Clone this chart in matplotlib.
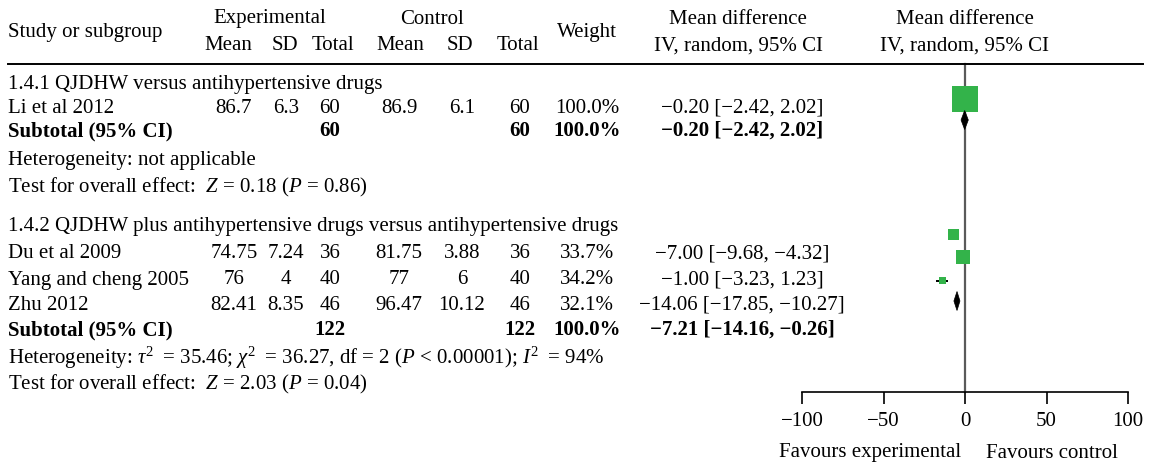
import matplotlib
matplotlib.use("Agg")
import matplotlib.pyplot as plt
from matplotlib.patches import Polygon
from matplotlib.lines import Line2D

# ---------------- data ----------------
studies = ["Li et al 2012", "Du et al 2009", "Yang and cheng 2005", "Zhu 2012"]
exp_mean = [86.7, 74.75, 76, 82.41]
exp_sd = [6.3, 7.24, 4, 8.35]
exp_n = [60, 36, 40, 46]
ctl_mean = [86.9, 81.75, 77, 96.47]
ctl_sd = [6.1, 3.88, 6, 10.12]
ctl_n = [60, 36, 40, 46]
weight = [100.0, 33.7, 34.2, 32.1]
md = [-0.20, -7.00, -1.00, -14.06]
md_lo = [-2.42, -9.68, -3.23, -17.85]
md_hi = [2.02, -4.32, 1.23, -10.27]

groups = ["1.4.1 QJDHW versus antihypertensive drugs",
          "1.4.2 QJDHW plus antihypertensive drugs versus antihypertensive drugs"]
sub_exp_n = [60, 122]
sub_ctl_n = [60, 122]
sub_weight = [100.0, 100.0]
sub_md = [-0.20, -7.21]
sub_lo = [-2.42, -14.16]
sub_hi = [2.02, -0.26]
# diamond extents as drawn in the picture
dia_center = [-0.20, -4.9]
dia_lo = [-2.42, -6.8]
dia_hi = [2.02, -3.1]
heterogeneity = ["Heterogeneity: not applicable",
                 "Heterogeneity: $\\tau^2$\u2009 = 35.46; $\\chi^2$\u2009 = 36.27, df = 2 "
                 "($P$ < 0.00001); $I^2$\u2009 = 94%"]
overall = ["Test for overall effect:  $Z$ = 0.18 ($P$ = 0.86)",
           "Test for overall effect:  $Z$ = 2.03 ($P$ = 0.04)"]
xticks = [-100, -50, 0, 50, 100]

# ---------------- style ----------------
plt.rcParams.update({
    "font.family": ["Liberation Serif", "DejaVu Serif"],
    "mathtext.fontset": "custom",
    "mathtext.rm": "Liberation Serif",
    "mathtext.it": "Liberation Serif:italic",
    "mathtext.bf": "Liberation Serif:bold",
    "axes.unicode_minus": True,
})
FS = 15
GREEN = "#33b34a"
W, H = 1150, 468
fig = plt.figure(figsize=(W / 100, H / 100), dpi=100)


def T(x, y, s, ha="left", weight="normal", **kw):
    fig.text(x / W, 1 - y / H, s, ha=ha, va="center", fontsize=FS,
             fontweight=weight, **kw)


def num(v, fmt="{:g}"):
    return fmt.format(v).replace("-", "\u2212")


def ci(m, lo, hi):
    return f"{num(m, '{:.2f}')} [{num(lo, '{:.2f}')}, {num(hi, '{:.2f}')}]"


# header
T(8, 32, "Study or subgroup")
T(270, 19, "Experimental", ha="center")
T(432, 19, "Control", ha="center")
for x, s in zip([228, 285, 333, 400, 460, 518], ["Mean", "SD", "Total", "Mean", "SD", "Total"]):
    T(x, 46, s, ha="center")
T(587, 32, "Weight", ha="center")
T(738, 19, "Mean difference", ha="center")
T(738, 46, "IV, random, 95% CI", ha="center")
T(965, 19, "Mean difference", ha="center")
T(965, 46, "IV, random, 95% CI", ha="center")
fig.add_artist(Line2D([8 / W, 1143 / W], [1 - 64 / H, 1 - 64 / H], color="black",
                      lw=1.4, transform=fig.transFigure))

# column x positions
cx = [234, 286, 330, 399, 462, 520, 587, 742]

study_rows = [108, 254, 280, 305]
group_rows = [85, 226]
sub_rows = [131, 330]
het_rows = [160, 358]
test_rows = [187, 384]

for i, name in enumerate(studies):
    y = study_rows[i]
    T(8, y, name)
    vals = [num(exp_mean[i]), num(exp_sd[i]), str(exp_n[i]), num(ctl_mean[i]),
            num(ctl_sd[i]), str(ctl_n[i]), f"{weight[i]:.1f}%", ci(md[i], md_lo[i], md_hi[i])]
    for x, s in zip(cx, vals):
        T(x, y, s, ha="center")

for g in range(2):
    T(8, group_rows[g], groups[g])
    y = sub_rows[g]
    T(8, y, "Subtotal (95% CI)", weight="bold")
    T(cx[2], y, str(sub_exp_n[g]), ha="center", weight="bold")
    T(cx[5], y, str(sub_ctl_n[g]), ha="center", weight="bold")
    T(cx[6], y, f"{sub_weight[g]:.1f}%", ha="center", weight="bold")
    T(cx[7], y, ci(sub_md[g], sub_lo[g], sub_hi[g]), ha="center", weight="bold")
    T(8, het_rows[g], heterogeneity[g])
    T(8, test_rows[g], overall[g])

# ---------------- forest axes ----------------
ax = fig.add_axes([802 / W, 0, (1128 - 802) / W, 1])
ax.set_xlim(-100, 100)
ax.set_ylim(H, 0)
ax.patch.set_alpha(0)
for s in ["top", "left", "right"]:
    ax.spines[s].set_visible(False)
ax.spines["bottom"].set_position(("data", 392))
ax.spines["bottom"].set_linewidth(1.2)
ax.set_yticks([])
ax.set_xticks(xticks)
ax.tick_params(axis="x", direction="out", length=8.6, width=1.2, pad=6, labelsize=FS)

ax.plot([0, 0], [64, 392], color="#5a5a5a", lw=1.6, zorder=1)

marker_y = [99, 234.5, 257, 280.5]
marker_w = [26, 11, 14, 7]          # px
ax.hlines(marker_y, md_lo, md_hi, color="black", lw=1.4, zorder=2)
ax.scatter(md, marker_y, marker="s", s=[(w * 0.72) ** 2 for w in marker_w],
           color=GREEN, linewidths=0, zorder=3)

dia_y = [120, 301]
dia_h = 19
for g in range(2):
    y = dia_y[g]
    ax.add_patch(Polygon([(dia_lo[g], y), (dia_center[g], y - dia_h / 2),
                          (dia_hi[g], y), (dia_center[g], y + dia_h / 2)],
                         closed=True, facecolor="black", edgecolor="black", lw=0.5, zorder=4))

T(870, 453, "Favours experimental", ha="center")
T(1052, 453, "Favours control", ha="center")

fig.savefig("out.png", dpi=100)
